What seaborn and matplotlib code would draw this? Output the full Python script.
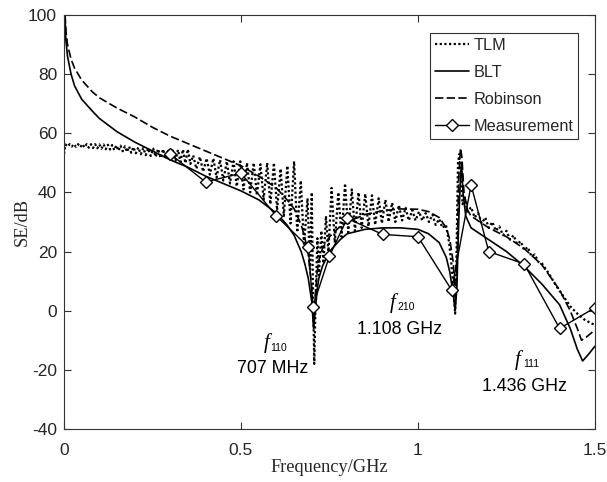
import matplotlib
matplotlib.use("Agg")
import matplotlib.pyplot as plt
import seaborn as sns
import pandas as pd

# ---------------- data ----------------
tlm_freq = [0.000, 0.004, 0.010, 0.016, 0.022, 0.028, 0.034, 0.040, 0.046, 0.052,
            0.058, 0.064, 0.070, 0.076, 0.082, 0.088, 0.094, 0.100, 0.106, 0.112,
            0.118, 0.124, 0.130, 0.136, 0.142, 0.148, 0.154, 0.160, 0.166, 0.172,
            0.178, 0.184, 0.190, 0.196,
            0.203, 0.210, 0.217, 0.224, 0.231, 0.238, 0.245, 0.252, 0.259, 0.266,
            0.273, 0.280, 0.287, 0.294, 0.301, 0.308, 0.315, 0.322, 0.329, 0.336,
            0.343, 0.350, 0.357,
            0.365, 0.374, 0.384, 0.393, 0.403, 0.412, 0.422, 0.431, 0.441, 0.450,
            0.460, 0.469, 0.479, 0.488, 0.498, 0.507, 0.517, 0.526, 0.536, 0.545,
            0.555, 0.564, 0.574, 0.583, 0.593, 0.602, 0.612, 0.621, 0.631, 0.640,
            0.650, 0.659, 0.669, 0.678, 0.688, 0.695, 0.700, 0.703, 0.707, 0.711,
            0.716, 0.720, 0.727, 0.733, 0.740, 0.747, 0.756, 0.765, 0.775, 0.784,
            0.794, 0.803, 0.813, 0.822, 0.832, 0.841, 0.851, 0.860, 0.870, 0.879,
            0.889, 0.898, 0.908, 0.917, 0.927, 0.936, 0.946, 0.955, 0.965, 0.974,
            0.984, 0.993, 1.003, 1.012, 1.022, 1.031, 1.041, 1.050, 1.060, 1.069,
            1.079, 1.088, 1.095, 1.100, 1.105, 1.109, 1.113, 1.117, 1.121, 1.126,
            1.132, 1.140, 1.150, 1.160, 1.170, 1.180, 1.190, 1.200, 1.210, 1.220,
            1.230, 1.240, 1.250, 1.260, 1.270, 1.280, 1.290, 1.300, 1.310, 1.320,
            1.330, 1.340, 1.350, 1.370, 1.390, 1.410, 1.430, 1.450, 1.470, 1.490,
            1.500]
tlm_se = [53.0, 56.2, 55.5, 56.3, 55.5, 56.3, 55.4, 56.3, 55.3, 56.3,
          55.2, 56.3, 55.1, 56.3, 55.0, 56.3, 54.9, 56.2, 54.8, 56.2,
          54.6, 56.1, 54.5, 56.0, 54.3, 55.9, 54.1, 55.8, 53.9, 55.6,
          53.7, 55.5, 53.4, 55.3,
          53.2, 55.2, 52.9, 55.0, 52.6, 54.9, 52.3, 54.8, 52.0, 54.7,
          51.6, 54.6, 51.3, 54.5, 51.0, 54.5, 50.6, 54.4, 50.3, 54.5,
          49.9, 54.6, 49.6,
          52.5, 48.0, 52.0, 47.0, 51.5, 46.0, 51.5, 45.0, 51.0, 44.0,
          50.5, 43.0, 50.5, 42.0, 50.5, 41.0, 50.0, 40.0, 50.0, 39.0,
          49.5, 37.5, 50.0, 36.0, 50.0, 34.0, 48.0, 32.0, 49.0, 29.5,
          50.5, 26.5, 44.0, 22.0, 38.0, 14.0, 40.0, 10.0, -18.0, 5.0,
          24.5, 12.0, 27.0, 16.0, 32.0, 20.0, 41.5, 23.0, 40.0, 25.0,
          43.0, 26.5, 41.0, 27.0, 40.0, 28.0, 39.5, 28.5, 39.0, 29.0,
          38.0, 29.5, 37.5, 30.0, 36.5, 30.0, 35.7, 30.5, 34.8, 30.5,
          34.0, 30.5, 33.5, 30.5, 33.0, 30.0, 32.5, 29.0, 31.0, 28.0,
          29.0, 23.0, 15.0, 8.0, -1.0, 20.0, 50.0, 53.0, 45.0, 36.0,
          38.0, 33.5, 35.0, 31.5, 33.0, 29.5, 31.5, 28.0, 30.0, 27.0,
          28.5, 25.5, 27.0, 24.0, 25.5, 22.5, 23.5, 20.5, 21.5, 18.5,
          19.0, 16.5, 16.0, 12.5, 8.5, 5.0, 1.5, -1.0, -3.0, -4.3,
          -4.8]

blt_freq = [0.002, 0.005, 0.01, 0.02, 0.03, 0.05, 0.08, 0.10, 0.15, 0.20,
            0.25, 0.30, 0.35, 0.40, 0.45, 0.50, 0.55, 0.60, 0.63, 0.65,
            0.67, 0.68, 0.69, 0.70, 0.705, 0.71, 0.715, 0.72, 0.73, 0.75,
            0.78, 0.80, 0.85, 0.90, 0.95, 1.00, 1.03, 1.06, 1.08, 1.09,
            1.10, 1.105, 1.11, 1.115, 1.12, 1.123, 1.127, 1.135, 1.15, 1.20,
            1.25, 1.30, 1.35, 1.40, 1.43, 1.45, 1.465, 1.48, 1.50]
blt_se = [104.0, 92.0, 86.0, 80.0, 76.0, 71.5, 67.5, 65.0, 60.5, 57.0,
          54.0, 51.0, 48.5, 45.5, 43.0, 40.5, 37.5, 33.0, 29.0, 25.5,
          20.0, 16.0, 11.0, 3.0, -6.0, 0.0, 7.0, 11.0, 15.0, 20.0,
          24.0, 26.0, 27.5, 28.0, 28.0, 27.5, 26.0, 23.0, 18.0, 13.0,
          5.0, 0.0, 8.0, 30.0, 45.0, 50.0, 40.0, 32.0, 28.0, 24.0,
          20.0, 15.0, 9.0, 2.0, -6.0, -13.0, -17.0, -15.0, -12.0]

rob_freq = [0.003, 0.006, 0.01, 0.02, 0.03, 0.05, 0.08, 0.10, 0.15, 0.20,
            0.25, 0.30, 0.35, 0.40, 0.45, 0.50, 0.55, 0.60, 0.63, 0.65,
            0.67, 0.68, 0.69, 0.70, 0.705, 0.71, 0.715, 0.72, 0.73, 0.75,
            0.78, 0.80, 0.85, 0.90, 0.95, 1.00, 1.03, 1.06, 1.08, 1.09,
            1.10, 1.105, 1.11, 1.115, 1.12, 1.124, 1.13, 1.14, 1.15, 1.20,
            1.25, 1.30, 1.35, 1.40, 1.43, 1.45, 1.462, 1.475, 1.50]
rob_se = [100.0, 94.0, 90.0, 85.0, 82.0, 78.0, 74.0, 72.0, 68.5, 65.5,
          62.0, 59.0, 56.5, 54.0, 51.5, 49.0, 45.5, 41.5, 37.5, 34.5,
          29.0, 25.0, 19.0, 8.0, -3.0, 5.0, 13.0, 17.0, 21.0, 25.0,
          28.5, 30.0, 32.5, 33.8, 34.4, 34.3, 33.5, 31.5, 28.0, 24.0,
          16.0, 4.0, 15.0, 45.0, 55.0, 52.0, 40.0, 34.0, 32.0, 28.0,
          25.0, 21.0, 15.5, 7.0, 0.0, -6.0, -10.0, -9.0, -6.5]

meas_freq = [0.30, 0.40, 0.50, 0.60, 0.69, 0.703, 0.75, 0.80, 0.90, 1.00,
             1.095, 1.15, 1.20, 1.30, 1.40, 1.50]
meas_se = [53.0, 43.5, 46.5, 32.0, 21.6, 1.4, 18.5, 31.2, 25.8, 25.0,
           7.0, 42.5, 20.0, 15.8, -6.0, 1.0]

x_ticks = [0, 0.5, 1, 1.5]
x_tick_labels = ["0", "0.5", "1", "1.5"]
y_ticks = [-40, -20, 0, 20, 40, 60, 80, 100]
y_tick_labels = ["-40", "-20", "0", "20", "40", "60", "80", "100"]

# ---------------- style ----------------
sns.set_theme(style="ticks")
plt.rcParams["font.family"] = ["Liberation Sans", "DejaVu Sans"]
axis_col = "#333333"

fig = plt.figure(figsize=(6.07, 4.82), dpi=100)
ax = fig.add_axes([0.1054, 0.110, 0.8748, 0.859])

tlm_df = pd.DataFrame({"f": tlm_freq, "se": tlm_se})
blt_df = pd.DataFrame({"f": blt_freq, "se": blt_se})
rob_df = pd.DataFrame({"f": rob_freq, "se": rob_se})
meas_df = pd.DataFrame({"f": meas_freq, "se": meas_se})

sns.lineplot(data=tlm_df, x="f", y="se", ax=ax, color="black", lw=1.6,
             linestyle=(0, (1, 1.1)), estimator=None, sort=False, label="TLM")
sns.lineplot(data=blt_df, x="f", y="se", ax=ax, color="black", lw=1.2,
             estimator=None, sort=False, label="BLT")
sns.lineplot(data=rob_df, x="f", y="se", ax=ax, color="black", lw=1.2,
             linestyle=(0, (5, 2)), estimator=None, sort=False, label="Robinson")
sns.lineplot(data=meas_df, x="f", y="se", ax=ax, color="black", lw=1.0,
             marker="D", markersize=6.5, markerfacecolor="white",
             markeredgecolor="black", markeredgewidth=1.0,
             estimator=None, sort=False, label="Measurement")

ax.set_xlim(0, 1.5)
ax.set_ylim(-40, 100)
ax.set_xticks(x_ticks)
ax.set_xticklabels(x_tick_labels)
ax.set_yticks(y_ticks)
ax.set_yticklabels(y_tick_labels)
ax.tick_params(direction="in", length=5, width=0.8, colors=axis_col,
               labelsize=12.5, top=True, right=True, labelcolor="#262626")
ax.tick_params(axis="x", pad=10)
ax.tick_params(axis="y", pad=5)
for s in ax.spines.values():
    s.set_visible(True)
    s.set_color(axis_col)
    s.set_linewidth(0.8)

ax.set_xlabel("Frequency/GHz", family="Liberation Serif", fontsize=13.2,
              color="#262626")
ax.set_ylabel("SE/dB", family="Liberation Serif", fontsize=13.2,
              color="#262626")
ax.xaxis.set_label_coords(0.5, -0.072)
ax.yaxis.set_label_coords(-0.062, 0.5)

leg = ax.legend(loc="upper right", bbox_to_anchor=(0.968, 0.957),
                borderaxespad=0, frameon=True, fancybox=False, shadow=False,
                fontsize=11.7, handlelength=2.1, handletextpad=0.25,
                labelspacing=0.74, borderpad=0.3, framealpha=1)
leg.get_frame().set_edgecolor(axis_col)
leg.get_frame().set_linewidth(0.8)

# annotations
ann = [
    (0.573, -10.9, 0.607, -12.6, "110", 0.588, -19.4, "707 MHz"),
    (0.929, 2.6, 0.967, 1.2, "210", 0.949, -6.5, "1.108 GHz"),
    (1.282, -16.7, 1.319, -18.0, "111", 1.302, -25.8, "1.436 GHz"),
]
for fx, fy, sx, sy, sub, tx, ty, txt in ann:
    ax.text(fx, fy, "f", family="Liberation Serif", style="italic",
            fontsize=15, ha="center", va="center", color="black")
    ax.text(sx, sy, sub, fontsize=7.5, ha="center", va="center", color="black")
    ax.text(tx, ty, txt, fontsize=12.8, ha="center", va="center", color="black")

fig.savefig("out.png", dpi=100)
